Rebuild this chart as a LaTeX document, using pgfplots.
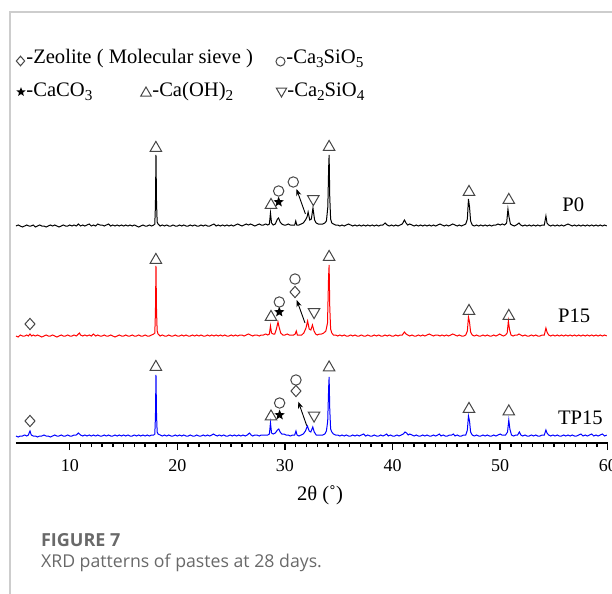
\documentclass[border=0pt]{standalone}
\usepackage{pgfplots}
\pgfplotsset{compat=1.18}
\usepackage{pgfplotstable}
\usepackage{fontspec}
\setmainfont{Liberation Serif}
\newfontfamily\capfont{Open Sans}
\usetikzlibrary{shapes.geometric,arrows.meta}

\definecolor{framegray}{RGB}{205,205,205}
\definecolor{capgray}{RGB}{105,105,105}
\definecolor{symgray}{RGB}{70,70,70}

\newcommand{\sub}[1]{\raisebox{-0.45ex}{\fontsize{7.6}{8}\selectfont #1}}

% Diffraction intensities, counted above each pattern's own baseline
\pgfplotstableread[row sep=\\]{
x I\\
5.0 1\\ 5.2 2\\ 5.4 1\\ 5.6 0\\ 5.8 1\\ 6.0 2\\ 6.2 1\\ 6.4 1\\ 6.6 2\\ 6.8 0\\
7.0 1\\ 7.2 2\\ 7.4 1\\ 7.6 1\\ 7.8 0\\ 8.0 1\\ 8.2 2\\ 8.4 1\\ 8.6 2\\ 8.8 1\\
9.0 0\\ 9.2 1\\ 9.4 2\\ 9.6 1\\ 9.8 1\\ 10.0 2\\ 10.2 1\\ 10.4 2\\ 10.6 1\\ 10.8 3\\
11.0 1\\ 11.2 2\\ 11.4 1\\ 11.6 2\\ 11.8 3\\ 12.0 1\\ 12.2 2\\ 12.4 1\\ 12.6 3\\ 12.8 2\\
13.0 2\\ 13.2 1\\ 13.4 2\\ 13.6 3\\ 13.8 1\\ 14.0 2\\ 14.2 1\\ 14.4 2\\ 14.6 1\\ 14.8 2\\
15.0 1\\ 15.2 2\\ 15.4 1\\ 15.6 2\\ 15.8 1\\ 16.0 2\\ 16.2 1\\ 16.4 0\\ 16.6 1\\ 16.8 2\\
17.0 1\\ 17.2 1\\ 17.4 2\\ 17.6 1\\ 17.8 2\\ 17.9 3\\ 17.96 22\\ 18.01 72\\ 18.06 24\\ 18.12 5\\
18.2 3\\ 18.4 1\\ 18.6 2\\ 18.8 1\\ 19.0 2\\ 19.2 1\\ 19.4 1\\ 19.6 2\\ 19.8 1\\
20.0 1\\ 20.2 2\\ 20.4 1\\ 20.6 2\\ 20.8 1\\ 21.0 1\\ 21.2 2\\ 21.4 1\\ 21.6 2\\ 21.8 1\\
22.0 1\\ 22.2 2\\ 22.4 1\\ 22.6 2\\ 22.8 1\\ 23.0 1\\ 23.2 2\\ 23.4 3\\ 23.6 1\\ 23.8 2\\
24.0 1\\ 24.2 2\\ 24.4 1\\ 24.6 2\\ 24.8 1\\ 25.0 2\\ 25.2 1\\ 25.4 2\\ 25.6 3\\ 25.8 2\\
26.0 1\\ 26.2 2\\ 26.4 3\\ 26.6 2\\ 26.8 3\\ 27.0 2\\ 27.2 1\\ 27.4 2\\ 27.6 3\\ 27.8 2\\
28.0 2\\ 28.2 3\\ 28.4 2\\ 28.55 3\\ 28.65 14\\ 28.75 4\\ 28.9 2\\ 29.1 3\\ 29.3 8\\ 29.4 9\\
29.55 5\\ 29.7 3\\ 29.9 2\\ 30.1 2\\ 30.3 3\\ 30.5 2\\ 30.7 2\\ 30.9 2\\ 31.0 6\\ 31.1 2\\
31.3 2\\ 31.5 3\\ 31.7 4\\ 31.9 7\\ 32.05 10\\ 32.15 15\\ 32.3 7\\ 32.45 8\\ 32.6 19\\ 32.75 7\\
32.9 4\\ 33.1 3\\ 33.3 3\\ 33.5 3\\ 33.7 4\\ 33.85 6\\ 33.98 20\\ 34.06 60\\ 34.1 72\\ 34.16 30\\
34.24 8\\ 34.35 4\\ 34.5 3\\ 34.7 2\\ 34.9 2\\
35.1 1\\ 35.3 2\\ 35.5 1\\ 35.7 2\\ 35.9 3\\ 36.1 2\\ 36.3 1\\ 36.5 2\\ 36.7 1\\ 36.9 2\\
37.1 1\\ 37.3 2\\ 37.5 1\\ 37.7 2\\ 37.9 1\\ 38.1 2\\ 38.3 1\\ 38.5 2\\ 38.7 1\\ 38.9 2\\
39.1 2\\ 39.3 4\\ 39.5 2\\ 39.7 1\\ 39.9 2\\ 40.1 1\\ 40.3 2\\ 40.5 1\\ 40.7 2\\ 40.9 3\\
41.1 7\\ 41.25 4\\ 41.4 2\\ 41.6 3\\ 41.8 2\\ 42.0 1\\ 42.2 2\\ 42.4 1\\ 42.6 2\\ 42.8 1\\
43.0 2\\ 43.2 1\\ 43.4 2\\ 43.6 1\\ 43.8 2\\ 44.0 1\\ 44.2 2\\ 44.4 3\\ 44.6 2\\ 44.8 1\\
45.0 2\\ 45.2 1\\ 45.4 2\\ 45.6 3\\ 45.8 2\\ 46.0 1\\ 46.2 2\\ 46.4 1\\ 46.6 2\\ 46.8 3\\
46.95 8\\ 47.05 28\\ 47.15 20\\ 47.25 6\\ 47.4 2\\ 47.6 1\\ 47.8 2\\ 48.0 1\\ 48.2 2\\ 48.4 1\\
48.6 2\\ 48.8 1\\ 49.0 2\\ 49.2 1\\ 49.4 2\\ 49.6 2\\ 49.8 3\\ 50.0 2\\ 50.2 3\\ 50.4 2\\
50.6 4\\ 50.72 18\\ 50.82 10\\ 50.95 3\\ 51.1 2\\ 51.3 1\\ 51.5 2\\ 51.75 4\\ 51.9 2\\ 52.1 1\\
52.3 2\\ 52.5 1\\ 52.7 2\\ 52.9 1\\ 53.1 2\\ 53.3 1\\ 53.5 2\\ 53.7 1\\ 53.9 2\\ 54.1 2\\
54.25 11\\ 54.35 4\\ 54.5 2\\ 54.7 1\\ 54.9 2\\ 55.1 1\\ 55.3 2\\ 55.5 1\\ 55.7 2\\ 55.9 1\\
56.1 2\\ 56.3 3\\ 56.5 2\\ 56.7 1\\ 56.9 2\\ 57.1 1\\ 57.3 2\\ 57.5 1\\ 57.7 2\\ 57.9 1\\
58.1 2\\ 58.3 1\\ 58.5 2\\ 58.7 1\\ 58.9 2\\ 59.1 1\\ 59.3 2\\ 59.5 1\\ 59.7 2\\ 59.9 1\\
}\patternPzero

\pgfplotstableread[row sep=\\]{
x I\\
5.0 1\\ 5.2 0\\ 5.4 2\\ 5.6 1\\ 5.8 1\\ 6.0 2\\ 6.15 1\\ 6.3 3\\ 6.45 1\\ 6.6 2\\
6.8 1\\ 7.0 2\\ 7.2 1\\ 7.4 0\\ 7.6 1\\ 7.8 2\\ 8.0 1\\ 8.2 1\\ 8.4 2\\ 8.6 1\\
8.8 0\\ 9.0 1\\ 9.2 2\\ 9.4 1\\ 9.6 1\\ 9.8 2\\ 10.0 1\\ 10.2 1\\ 10.4 2\\ 10.6 1\\
10.8 3\\ 10.9 4\\ 11.0 2\\ 11.2 1\\ 11.4 2\\ 11.6 1\\ 11.8 2\\ 12.0 1\\ 12.2 3\\ 12.4 1\\
12.6 2\\ 12.8 1\\ 13.0 1\\ 13.2 2\\ 13.4 1\\ 13.6 1\\ 13.8 2\\ 14.0 1\\ 14.2 0\\ 14.4 1\\
14.6 2\\ 14.8 1\\ 15.0 1\\ 15.2 2\\ 15.4 1\\ 15.6 1\\ 15.8 2\\ 16.0 1\\ 16.2 1\\ 16.4 2\\
16.6 1\\ 16.8 1\\ 17.0 2\\ 17.2 1\\ 17.4 1\\ 17.6 2\\ 17.8 3\\ 17.9 4\\ 17.96 25\\ 18.01 71\\
18.06 26\\ 18.12 6\\ 18.2 3\\ 18.4 1\\ 18.6 2\\ 18.8 1\\ 19.0 1\\ 19.2 2\\ 19.4 1\\ 19.6 1\\ 19.8 2\\
20.0 1\\ 20.2 1\\ 20.4 2\\ 20.6 1\\ 20.8 2\\ 21.0 1\\ 21.2 1\\ 21.4 2\\ 21.6 1\\ 21.8 2\\
22.0 1\\ 22.2 2\\ 22.4 1\\ 22.6 1\\ 22.8 2\\ 23.0 1\\ 23.2 2\\ 23.4 1\\ 23.6 2\\ 23.8 1\\
24.0 2\\ 24.2 1\\ 24.4 2\\ 24.6 1\\ 24.8 1\\ 25.0 2\\ 25.2 1\\ 25.4 2\\ 25.6 1\\ 25.8 2\\
26.0 2\\ 26.2 1\\ 26.4 2\\ 26.6 3\\ 26.8 2\\ 27.0 1\\ 27.2 2\\ 27.4 2\\ 27.6 1\\ 27.8 2\\
28.0 2\\ 28.2 3\\ 28.4 2\\ 28.55 3\\ 28.65 11\\ 28.75 4\\ 28.9 3\\ 29.05 3\\ 29.2 8\\ 29.35 15\\
29.45 10\\ 29.6 4\\ 29.8 2\\ 30.0 2\\ 30.2 3\\ 30.4 2\\ 30.6 2\\ 30.8 2\\ 30.95 3\\ 31.05 6\\
31.15 2\\ 31.35 2\\ 31.55 2\\ 31.75 4\\ 31.95 9\\ 32.1 16\\ 32.25 8\\ 32.4 7\\ 32.55 12\\ 32.7 6\\
32.85 3\\ 33.0 2\\ 33.2 3\\ 33.4 3\\ 33.6 4\\ 33.8 6\\ 33.95 14\\ 34.05 60\\ 34.1 72\\ 34.16 30\\
34.24 8\\ 34.35 4\\ 34.5 2\\ 34.7 2\\ 34.9 1\\
35.1 2\\ 35.3 1\\ 35.5 2\\ 35.7 1\\ 35.9 1\\ 36.1 2\\ 36.3 1\\ 36.5 2\\ 36.7 1\\ 36.9 1\\
37.1 2\\ 37.3 1\\ 37.5 1\\ 37.7 2\\ 37.9 1\\ 38.1 1\\ 38.3 2\\ 38.5 1\\ 38.7 2\\ 38.9 1\\
39.1 1\\ 39.3 2\\ 39.5 1\\ 39.7 2\\ 39.9 1\\ 40.1 1\\ 40.3 2\\ 40.5 1\\ 40.7 2\\ 40.9 2\\
41.1 5\\ 41.25 3\\ 41.4 2\\ 41.6 1\\ 41.8 2\\ 42.0 1\\ 42.2 1\\ 42.4 2\\ 42.6 1\\ 42.8 2\\
43.0 1\\ 43.2 2\\ 43.4 3\\ 43.6 2\\ 43.8 1\\ 44.0 2\\ 44.2 2\\ 44.4 1\\ 44.6 2\\ 44.8 1\\
45.0 2\\ 45.2 1\\ 45.4 2\\ 45.6 3\\ 45.8 2\\ 46.0 1\\ 46.2 2\\ 46.4 1\\ 46.6 1\\ 46.8 2\\
46.95 6\\ 47.05 20\\ 47.15 15\\ 47.25 5\\ 47.4 2\\ 47.6 1\\ 47.8 2\\ 48.0 1\\ 48.2 1\\ 48.4 2\\
48.6 1\\ 48.8 2\\ 49.0 1\\ 49.2 1\\ 49.4 2\\ 49.6 1\\ 49.8 2\\ 49.95 3\\ 50.1 2\\ 50.3 1\\
50.5 2\\ 50.65 4\\ 50.76 16\\ 50.86 8\\ 51.0 2\\ 51.2 1\\ 51.4 2\\ 51.6 2\\ 51.75 3\\ 51.9 2\\
52.1 1\\ 52.3 2\\ 52.5 1\\ 52.7 1\\ 52.9 2\\ 53.1 1\\ 53.3 2\\ 53.5 1\\ 53.7 1\\ 53.9 2\\
54.1 2\\ 54.25 9\\ 54.35 5\\ 54.5 2\\ 54.7 1\\ 54.9 2\\ 55.1 1\\ 55.3 2\\ 55.5 1\\ 55.7 2\\
55.9 1\\ 56.1 2\\ 56.3 1\\ 56.5 2\\ 56.7 1\\ 56.9 2\\ 57.1 1\\ 57.3 2\\ 57.5 1\\ 57.7 2\\
57.9 1\\ 58.1 2\\ 58.3 1\\ 58.5 2\\ 58.7 1\\ 58.9 2\\ 59.1 1\\ 59.3 2\\ 59.5 1\\ 59.7 2\\ 59.9 1\\
}\patternPfifteen

\pgfplotstableread[row sep=\\]{
x I\\
5.0 1\\ 5.2 0\\ 5.4 1\\ 5.6 1\\ 5.8 2\\ 6.0 1\\ 6.15 2\\ 6.3 6\\ 6.42 2\\ 6.6 1\\
6.8 1\\ 7.0 0\\ 7.2 1\\ 7.4 1\\ 7.6 2\\ 7.8 1\\ 8.0 1\\ 8.2 0\\ 8.4 1\\ 8.6 2\\
8.8 1\\ 9.0 1\\ 9.2 2\\ 9.4 1\\ 9.6 1\\ 9.8 2\\ 10.0 1\\ 10.2 1\\ 10.4 2\\ 10.6 2\\
10.8 4\\ 11.0 2\\ 11.2 1\\ 11.4 2\\ 11.6 1\\ 11.8 2\\ 12.0 1\\ 12.2 2\\ 12.4 1\\ 12.6 2\\
12.8 1\\ 13.0 1\\ 13.2 2\\ 13.4 1\\ 13.6 2\\ 13.8 1\\ 14.0 1\\ 14.2 2\\ 14.4 1\\ 14.6 2\\
14.8 1\\ 15.0 2\\ 15.2 1\\ 15.4 2\\ 15.6 1\\ 15.8 1\\ 16.0 2\\ 16.2 1\\ 16.4 2\\ 16.6 1\\
16.8 2\\ 17.0 1\\ 17.2 2\\ 17.4 1\\ 17.6 2\\ 17.8 2\\ 17.9 3\\ 17.96 20\\ 18.01 62\\ 18.06 22\\
18.12 5\\ 18.2 3\\ 18.4 2\\ 18.6 1\\ 18.8 2\\ 19.0 1\\ 19.2 2\\ 19.4 1\\ 19.6 1\\ 19.8 2\\
20.0 1\\ 20.2 2\\ 20.4 1\\ 20.6 2\\ 20.8 1\\ 21.0 1\\ 21.2 2\\ 21.4 1\\ 21.6 1\\ 21.8 2\\
22.0 1\\ 22.2 1\\ 22.4 2\\ 22.6 1\\ 22.8 2\\ 23.0 1\\ 23.2 2\\ 23.35 3\\ 23.5 2\\ 23.7 1\\
23.9 2\\ 24.1 1\\ 24.3 2\\ 24.5 1\\ 24.7 1\\ 24.9 2\\ 25.1 1\\ 25.3 2\\ 25.5 1\\ 25.7 2\\
25.9 1\\ 26.1 2\\ 26.3 1\\ 26.5 2\\ 26.7 4\\ 26.85 2\\ 27.0 1\\ 27.2 2\\ 27.4 2\\ 27.6 1\\
27.8 2\\ 28.0 2\\ 28.2 2\\ 28.4 2\\ 28.55 3\\ 28.65 14\\ 28.75 4\\ 28.9 3\\ 29.1 4\\ 29.3 7\\
29.42 8\\ 29.55 5\\ 29.7 3\\ 29.9 3\\ 30.1 2\\ 30.3 2\\ 30.5 1\\ 30.7 2\\ 30.9 2\\ 31.02 6\\
31.12 2\\ 31.3 1\\ 31.5 2\\ 31.7 3\\ 31.9 6\\ 32.08 11\\ 32.25 6\\ 32.4 5\\ 32.58 10\\ 32.72 5\\
32.9 2\\ 33.1 2\\ 33.3 2\\ 33.5 2\\ 33.7 3\\ 33.85 6\\ 33.97 16\\ 34.06 50\\ 34.1 60\\ 34.16 28\\
34.24 8\\ 34.35 5\\ 34.5 3\\ 34.7 2\\ 34.9 2\\
35.1 1\\ 35.3 2\\ 35.5 1\\ 35.7 2\\ 35.9 1\\ 36.1 1\\ 36.3 2\\ 36.5 1\\ 36.7 2\\ 36.9 1\\
37.1 2\\ 37.3 3\\ 37.5 1\\ 37.7 2\\ 37.9 1\\ 38.1 1\\ 38.3 2\\ 38.5 1\\ 38.7 1\\ 38.9 2\\
39.1 1\\ 39.3 2\\ 39.45 3\\ 39.6 1\\ 39.8 2\\ 40.0 1\\ 40.2 1\\ 40.4 2\\ 40.6 1\\ 40.8 2\\
41.0 3\\ 41.15 5\\ 41.3 4\\ 41.45 2\\ 41.6 3\\ 41.8 2\\ 42.0 1\\ 42.2 2\\ 42.4 1\\ 42.6 1\\
42.8 2\\ 43.0 1\\ 43.2 2\\ 43.4 1\\ 43.6 1\\ 43.8 2\\ 44.0 1\\ 44.2 2\\ 44.35 3\\ 44.5 1\\
44.7 2\\ 44.9 1\\ 45.1 1\\ 45.3 2\\ 45.5 2\\ 45.65 3\\ 45.8 1\\ 46.0 2\\ 46.2 1\\ 46.4 1\\
46.6 2\\ 46.8 2\\ 46.95 7\\ 47.05 21\\ 47.15 16\\ 47.25 5\\ 47.4 2\\ 47.6 1\\ 47.8 2\\ 48.0 1\\
48.2 1\\ 48.4 2\\ 48.6 1\\ 48.8 2\\ 49.0 1\\ 49.2 1\\ 49.4 2\\ 49.6 1\\ 49.8 2\\ 50.0 3\\
50.15 2\\ 50.3 2\\ 50.5 2\\ 50.68 5\\ 50.8 17\\ 50.9 8\\ 51.05 2\\ 51.25 1\\ 51.45 2\\ 51.62 2\\
51.78 5\\ 51.92 2\\ 52.1 1\\ 52.3 2\\ 52.5 1\\ 52.7 1\\ 52.9 2\\ 53.1 1\\ 53.3 2\\ 53.5 1\\
53.7 1\\ 53.9 2\\ 54.1 2\\ 54.25 7\\ 54.35 4\\ 54.5 2\\ 54.7 1\\ 54.9 2\\ 55.1 1\\ 55.3 2\\
55.5 1\\ 55.7 1\\ 55.9 2\\ 56.1 1\\ 56.3 2\\ 56.5 1\\ 56.7 2\\ 56.9 1\\ 57.1 1\\ 57.3 2\\
57.5 3\\ 57.7 1\\ 57.9 2\\ 58.1 1\\ 58.3 2\\ 58.5 3\\ 58.7 1\\ 58.9 2\\ 59.1 1\\ 59.3 2\\
59.5 3\\ 59.7 1\\ 59.9 2\\
}\patternTPfifteen

\tikzset{
  tri/.style={draw=symgray, line width=0.5pt, regular polygon, regular polygon sides=3,
    minimum size=6.6pt, inner sep=0pt},
  itri/.style={tri, shape border rotate=180},
  circ/.style={draw=symgray, line width=0.5pt, circle, minimum size=5.2pt, inner sep=0pt},
  dia/.style={draw=symgray, line width=0.5pt, diamond, minimum width=5.2pt,
    minimum height=5.8pt, inner sep=0pt},
  sta/.style={fill=black, star, star points=5, star point ratio=2.3,
    minimum size=5.4pt, inner sep=0pt},
  peakarrow/.style={line width=0.45pt, -{Stealth[length=3.4pt,width=2.6pt]}},
  lbl/.style={anchor=base west, inner sep=0pt, font=\fontsize{10.3}{12}\selectfont},
}

\begin{document}
\begin{tikzpicture}
\begin{scope}[x=0.5pt,y=-0.5pt]
  % figure frame
  \draw[framegray, line width=0.8pt] (10,594) -- (10,12) -- (612,12);
  % phase key
  \node[dia, minimum width=4.4pt, minimum height=5pt] at (20.5,61) {};
  \node[lbl] at (26,63.3) {-Zeolite ( Molecular sieve )};
  \node[circ, minimum size=4.5pt] at (280.5,61.5) {};
  \node[lbl] at (286,63.3) {-Ca\sub{3}SiO\sub{5}};
  \node[sta, minimum size=4.8pt] at (21,92) {};
  \node[lbl] at (26,96.5) {-CaCO\sub{3}};
  \node[tri, minimum size=6pt] at (146,93) {};
  \node[lbl] at (152,96.5) {-Ca(OH)\sub{2}};
  \node[itri, minimum size=6pt] at (281.5,91) {};
  \node[lbl] at (287,96.5) {-Ca\sub{2}SiO\sub{4}};
  % axis title
  \node[anchor=base, inner sep=0pt, font=\fontsize{10.3}{12}\selectfont] at (320,500) {2θ (˚)};
  % caption
  \node[anchor=base west, inner sep=0pt, text=capgray, font=\capfont\bfseries\fontsize{9}{10.8}\selectfont] at (40.7,546) {FIGURE 7};
  \node[anchor=base west, inner sep=0pt, text=capgray, font=\capfont\fontsize{8.85}{10.6}\selectfont] at (40.7,567.5) {XRD patterns of pastes at 28 days.};
\end{scope}

\begin{axis}[
  at={(8pt,-221.5pt)}, anchor=south west,
  x=5.38pt, y=0.5pt,
  xmin=5, xmax=60, ymin=0, ymax=300,
  clip=false,
  axis x line*=bottom, axis y line=none, ytick=\empty,
  xtick={10,20,30,40,50,60}, minor x tick num=9,
  tick align=outside,
  major tick length=3.5pt, minor tick length=2pt,
  every tick/.style={black, line width=0.7pt},
  x axis line style={black, line width=0.8pt},
  /pgf/number format/assume math mode=true,
  xticklabel style={font=\fontsize{9}{10}\selectfont, yshift=-1pt},
]
\addplot[black, line width=0.5pt] table[x=x, y expr=\thisrow{I}+216] {\patternPzero};
\addplot[red, line width=0.5pt] table[x=x, y expr=\thisrow{I}+106] {\patternPfifteen};
\addplot[blue, line width=0.5pt] table[x=x, y expr=\thisrow{I}+6] {\patternTPfifteen};

% P0 peak assignments
\node[tri] at (axis cs:18.0,295) {};
\node[tri] at (axis cs:34.1,296) {};
\node[tri] at (axis cs:28.7,238) {};
\node[sta] at (axis cs:29.41,241) {};
\node[circ] at (axis cs:29.41,252) {};
\node[circ] at (axis cs:30.77,261) {};
\draw[peakarrow] (axis cs:31.9,229) -- (axis cs:31.07,254);
\node[itri] at (axis cs:32.63,244) {};
\node[tri] at (axis cs:47.1,251) {};
\node[tri] at (axis cs:50.8,243) {};
\node[lbl] at (axis cs:55.74,232) {P0};

% P15 peak assignments
\node[dia] at (axis cs:6.3,119) {};
\node[tri] at (axis cs:18.0,183) {};
\node[tri] at (axis cs:34.1,186) {};
\node[tri] at (axis cs:28.7,126) {};
\node[sta] at (axis cs:29.47,131) {};
\node[circ] at (axis cs:29.47,141) {};
\node[dia] at (axis cs:30.93,151) {};
\node[circ] at (axis cs:30.93,164) {};
\draw[peakarrow] (axis cs:31.86,120) -- (axis cs:31.09,143);
\node[itri] at (axis cs:32.7,131) {};
\node[tri] at (axis cs:47.1,132) {};
\node[tri] at (axis cs:50.8,127) {};
\node[lbl] at (axis cs:55.34,121) {P15};

% TP15 peak assignments
\node[dia] at (axis cs:6.3,22) {};
\node[tri] at (axis cs:18.0,76) {};
\node[tri] at (axis cs:34.1,75.5) {};
\node[tri] at (axis cs:28.7,26.5) {};
\node[sta] at (axis cs:29.5,28) {};
\node[circ] at (axis cs:29.5,40) {};
\node[dia] at (axis cs:31.02,52) {};
\node[circ] at (axis cs:31.02,63) {};
\draw[peakarrow] (axis cs:32.02,17.3) -- (axis cs:31.24,41.3);
\node[itri] at (axis cs:32.7,27.5) {};
\node[tri] at (axis cs:47.1,34) {};
\node[tri] at (axis cs:50.8,31.5) {};
\node[lbl] at (axis cs:55.34,19) {TP15};
\end{axis}
% the page is the figure panel, 612 x 594 units of 0.5pt
\pgfresetboundingbox
\path[use as bounding box] (0pt,0pt) rectangle (306pt,-297pt);
\end{tikzpicture}
\end{document}
